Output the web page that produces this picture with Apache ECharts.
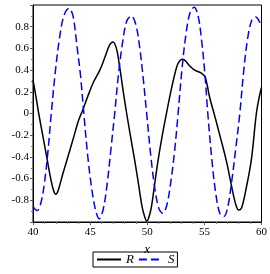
<!DOCTYPE html>
<html><head><meta charset="utf-8">
<script src="https://cdn.jsdelivr.net/npm/echarts@6/dist/echarts.min.js"></script>
<style>html,body{margin:0;padding:0;background:#fff}#c{width:270px;height:274px}</style>
</head><body><div id="c"></div>
<script>
var rX = [40.0,40.25,40.5,40.85,41.2,41.55,41.8,42.0,42.2,42.6,43.0,43.5,44.0,44.35,44.8,45.3,45.85,46.3,46.7,47.0,47.3,47.6,47.9,48.2,48.55,48.9,49.25,49.55,49.8,49.95,50.1,50.35,50.65,50.95,51.3,51.68,52.1,52.55,52.8,53.05,53.3,53.7,54.15,54.7,55.05,55.25,55.46,55.9,56.4,56.92,57.4,57.75,58.0,58.25,58.6,59.1,59.55,59.8,60.0];
var rY = [0.31,0.16,0.0,-0.2,-0.4,-0.6,-0.71,-0.745,-0.71,-0.56,-0.42,-0.24,-0.06,0.03,0.16,0.29,0.40,0.52,0.63,0.66,0.60,0.42,0.20,0.0,-0.22,-0.43,-0.66,-0.86,-0.96,-0.99,-0.97,-0.87,-0.65,-0.43,-0.21,0.0,0.22,0.42,0.48,0.50,0.49,0.44,0.40,0.375,0.34,0.26,0.15,-0.02,-0.22,-0.435,-0.68,-0.84,-0.89,-0.87,-0.72,-0.435,0.0,0.15,0.24];
var sX = [40.0,40.35,40.7,41.0,41.3,41.6,41.95,42.3,42.7,43.15,43.5,43.85,44.15,44.45,44.8,45.15,45.5,45.8,46.15,46.5,46.8,47.15,47.5,47.85,48.2,48.6,49.0,49.35,49.65,49.95,50.3,50.65,51.0,51.35,51.7,52.05,52.4,52.7,53.05,53.4,53.75,54.1,54.45,54.75,55.05,55.3,55.65,56.0,56.35,56.7,57.05,57.4,57.75,58.1,58.45,58.8,59.15,59.5,59.8,60.0];
var sY = [-0.86,-0.895,-0.82,-0.64,-0.36,0.0,0.38,0.68,0.90,0.97,0.90,0.62,0.36,0.0,-0.40,-0.70,-0.90,-0.97,-0.88,-0.64,-0.35,0.0,0.38,0.66,0.85,0.90,0.82,0.60,0.32,0.0,-0.38,-0.68,-0.87,-0.92,-0.85,-0.64,-0.34,0.0,0.42,0.74,0.93,0.98,0.90,0.68,0.36,0.0,-0.42,-0.74,-0.92,-0.95,-0.86,-0.62,-0.32,0.0,0.40,0.70,0.86,0.89,0.85,0.80];
var xTicks = [40,45,50,55,60];
var yTicks = [-0.8,-0.6,-0.4,-0.2,0,0.2,0.4,0.6,0.8];

function pairs(xs, ys){ return xs.map(function(x,i){return [x, ys[i]];}); }
var chart = echarts.init(document.getElementById('c'), null, {renderer:'canvas'});
var serif = '"Liberation Serif","DejaVu Serif",serif';
chart.setOption({
  animation:false,
  grid:{left:33,right:8,top:5,bottom:52,show:true,borderColor:'#000',borderWidth:1,backgroundColor:'transparent'},
  xAxis:{type:'value',min:40,max:60,interval:5,
    name:'x',nameLocation:'middle',nameGap:9,
    nameTextStyle:{fontFamily:serif,fontStyle:'italic',fontSize:13,color:'#000',verticalAlign:'top'},
    axisLine:{show:true,onZero:false,lineStyle:{color:'#000',width:1}},
    axisTick:{show:true,length:3,lineStyle:{color:'#555'}},
    minorTick:{show:true,splitNumber:5,length:2,lineStyle:{color:'#777'}},
    splitLine:{show:false},
    axisLabel:{fontFamily:serif,fontSize:11,color:'#000',margin:5,
      formatter:function(v){return xTicks.indexOf(v)>=0?String(v):'';}}
  },
  yAxis:{type:'value',min:-1,max:1,interval:0.2,
    axisLine:{show:true,onZero:false,lineStyle:{color:'#000',width:1}},
    axisTick:{show:true,length:3,lineStyle:{color:'#555'}},
    minorTick:{show:true,splitNumber:2,length:2,lineStyle:{color:'#777'}},
    splitLine:{show:false},
    axisLabel:{fontFamily:serif,fontSize:11,color:'#000',margin:4,
      formatter:function(v){
        var r=Math.round(v*10)/10;
        for(var i=0;i<yTicks.length;i++){ if(Math.abs(yTicks[i]-r)<1e-9){ return String(yTicks[i]); } }
        return '';
      }}
  },
  legend:{show:true,left:93,top:252,orient:'horizontal',
    borderColor:'#000',borderWidth:1,padding:[1,3,1,3],itemGap:4,itemWidth:24,itemHeight:12,
    itemStyle:{opacity:0},
    textStyle:{fontFamily:serif,fontStyle:'italic',fontSize:13,color:'#000'},
    data:['R','S']
  },
  series:[
    {name:'R',type:'line',data:pairs(rX,rY),smooth:0.35,showSymbol:false,symbol:'none',
      lineStyle:{color:'#000',width:1.5},itemStyle:{color:'#000'}},
    {name:'S',type:'line',data:pairs(sX,sY),smooth:0.35,showSymbol:false,symbol:'none',
      lineStyle:{color:'#0000ff',width:1.5,type:[8,4]},itemStyle:{color:'#0000ff'}}
  ]
});
</script></body></html>
